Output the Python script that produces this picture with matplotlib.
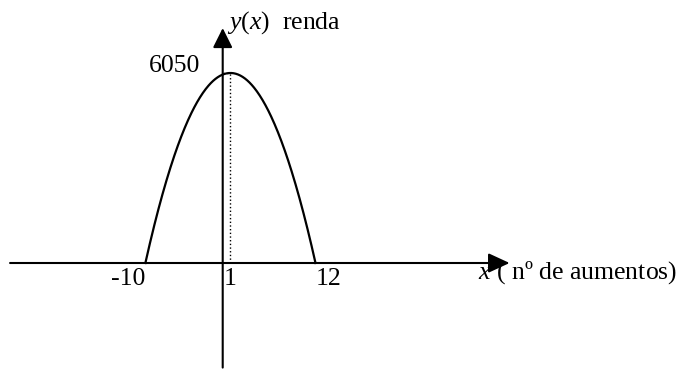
import numpy as np
import matplotlib
matplotlib.use("Agg")
import matplotlib.pyplot as plt

# dados: renda y(x) = -50 (x + 10)(x - 12)
raizes = [-10, 12]
x_max = 1
y_max = 6050
marcas_x = [-10, 1, 12]
rotulos_x = ["-10", "1", "12"]

plt.rcParams['font.family'] = ['Liberation Serif', 'DejaVu Serif']
plt.rcParams['mathtext.fontset'] = 'custom'
plt.rcParams['mathtext.it'] = 'Liberation Serif:italic'
plt.rcParams['mathtext.rm'] = 'Liberation Serif'

fig = plt.figure(figsize=(6.89, 3.69), dpi=100)
ax = fig.add_axes([0, 0, 1, 1])
ax.set_xlim(-28.8, 60.3)
ax.set_ylim(-3375, 8374)
ax.axis('off')

# curva
k = y_max / ((x_max - raizes[0]) * (raizes[1] - x_max))
xs = np.linspace(raizes[0], raizes[1], 300)
ys = -k * (xs - raizes[0]) * (xs - raizes[1])
ax.plot(xs, ys, color='black', lw=1.6)

# eixos com setas
ax.annotate('', xy=(37.1, 0), xytext=(-27.5, 0),
            arrowprops=dict(arrowstyle='-|>,head_length=1.3,head_width=0.6',
                            color='black', lw=1.5, shrinkA=0, shrinkB=0))
ax.annotate('', xy=(0, 7480), xytext=(0, -3330),
            arrowprops=dict(arrowstyle='-|>,head_length=1.2,head_width=0.6',
                            color='black', lw=1.5, shrinkA=0, shrinkB=0))

# linhas pontilhadas até o máximo
ax.plot([0, x_max], [y_max, y_max], color='black', lw=1, ls=':')
ax.plot([x_max, x_max], [0, y_max], color='black', lw=1, ls=':')

# rótulos
alinh = ['right', 'center', 'left']
for xv, lab, ha in zip(marcas_x, rotulos_x, alinh):
    ax.text(xv, -170, lab, ha=ha, va='top', fontsize=18.5)
ax.text(-2.9, y_max + 30, str(y_max), ha='right', va='baseline', fontsize=18.5)
ax.text(0.6, 7640, r'$y$($x$)  renda', ha='left', va='center', fontsize=18.5)
ax.text(33.0, -290, r'$x$ ( nº de aumentos)', ha='left', va='center',
        fontsize=18.5)

fig.savefig('out.png', dpi=100)
